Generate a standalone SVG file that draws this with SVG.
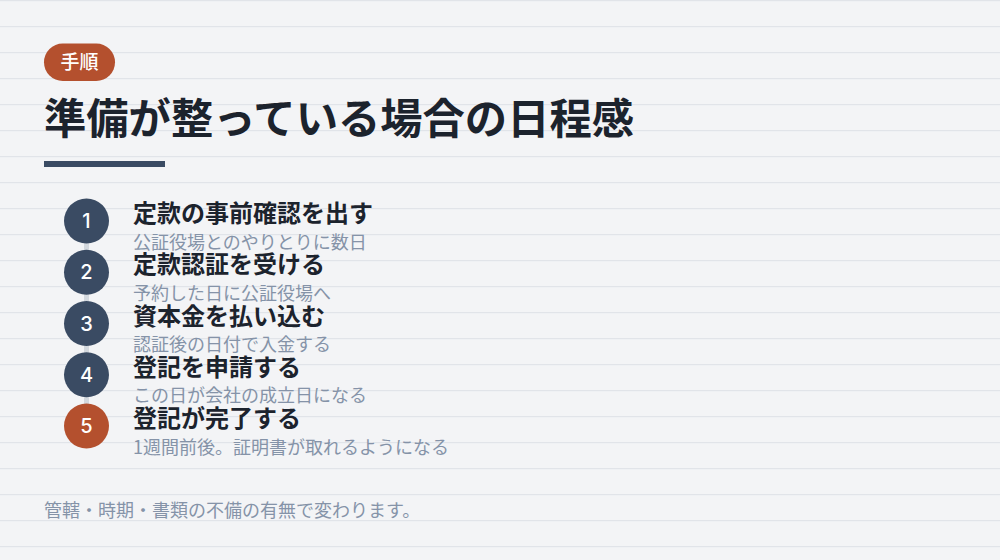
<svg xmlns="http://www.w3.org/2000/svg" width="1000" height="560" viewBox="0 0 1000 560">
<defs>
<pattern id="rules" x="0" y="0" width="1000" height="26" patternUnits="userSpaceOnUse">
<rect x="0" y="0" width="1000" height="1.2" fill="#e1e4e9"/>
</pattern>
<style>
.t{font-family:"Noto Sans CJK JP","Noto Sans",sans-serif;}
.h{font-size:42.3px;font-weight:700;fill:#1c232d;}
.st{font-size:24px;font-weight:700;fill:#1c232d;}
.sd{font-size:18px;font-weight:400;fill:#8593a8;}
.num{font-family:Inter,"Noto Sans",sans-serif;font-size:20px;font-weight:500;fill:#ffffff;text-anchor:middle;}
.c{fill:#3a4b63;}
.ca{fill:#b4502e;}
</style>
</defs>
<rect width="1000" height="560" fill="#f3f4f6"/>
<rect width="1000" height="560" fill="url(#rules)"/>
<g id="badge">
<rect x="44" y="43.5" width="71" height="37.5" rx="18.75" fill="#b4502e"/>
<text class="t" x="79.5" y="68.5" font-size="19" font-weight="500" fill="#ffffff" text-anchor="middle">手順</text>
</g>
<g id="title">
<text class="t h" x="44" y="134">準備が整っている場合の日程感</text>
<rect x="44" y="161" width="121" height="6" fill="#3a4b63"/>
</g>
<g id="connectors">
<line x1="86.5" y1="221" x2="86.5" y2="426" stroke="#d3d8de" stroke-width="5"/>
</g>
<g id="step1">
<circle class="c" cx="86.5" cy="221" r="22.5"/>
<text class="num" x="86.5" y="228">1</text>
<text class="t st" x="133" y="222">定款の事前確認を出す</text>
<text class="t sd" x="133" y="248.5">公証役場とのやりとりに数日</text>
</g>
<g id="step2">
<circle class="c" cx="86.5" cy="272.25" r="22.5"/>
<text class="num" x="86.5" y="279.25">2</text>
<text class="t st" x="133" y="273.25">定款認証を受ける</text>
<text class="t sd" x="133" y="299.75">予約した日に公証役場へ</text>
</g>
<g id="step3">
<circle class="c" cx="86.5" cy="323.5" r="22.5"/>
<text class="num" x="86.5" y="330.5">3</text>
<text class="t st" x="133" y="324.5">資本金を払い込む</text>
<text class="t sd" x="133" y="351">認証後の日付で入金する</text>
</g>
<g id="step4">
<circle class="c" cx="86.5" cy="374.75" r="22.5"/>
<text class="num" x="86.5" y="381.75">4</text>
<text class="t st" x="133" y="375.75">登記を申請する</text>
<text class="t sd" x="133" y="402.25">この日が会社の成立日になる</text>
</g>
<g id="step5">
<circle class="ca" cx="86.5" cy="426" r="22.5"/>
<text class="num" x="86.5" y="433">5</text>
<text class="t st" x="133" y="427">登記が完了する</text>
<text class="t sd" x="133" y="453.5">1週間前後。証明書が取れるようになる</text>
</g>
<g id="footer">
<text class="t sd" x="44" y="517">管轄・時期・書類の不備の有無で変わります。</text>
</g>
</svg>
